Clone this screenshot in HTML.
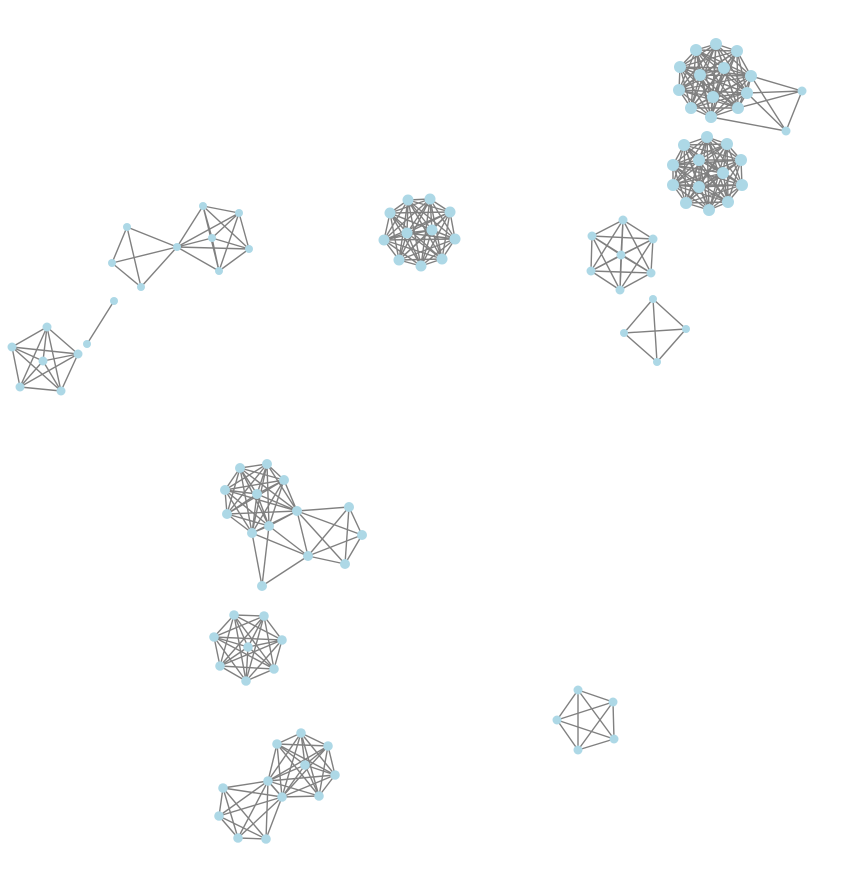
<!DOCTYPE html>
<html><head><meta charset="utf-8"><style>body{margin:0;background:#fff}svg{display:block}</style></head>
<body>
<svg id="g" width="867" height="869"></svg>
<script>
// clusters: node positions, clique groups, extra edges
const clusters = [
 {name:'cluster-top-right-a', r:6, nodes:[[696,50],[716,44],[737,51],[680,67],[724,68],[700,75],[751,76],[679,90],[747,93],[713,97],[691,108],[738,108],[711,117],[802,91],[786,131]],
  cliques:[[0,1,2,3,4,5,6,7,8,9,10,11,12]], extra:[[6,13],[6,14],[8,13],[8,14],[11,13],[12,14],[13,14]], small:[13,14]},
 {name:'cluster-top-right-b', r:6, nodes:[[684,145],[707,137],[727,144],[741,160],[699,160],[723,173],[673,165],[673,185],[699,187],[742,185],[686,203],[709,210],[728,202]],
  cliques:[[0,1,2,3,4,5,6,7,8,9,10,11,12]], extra:[]},
 {name:'cluster-center', r:5.5, nodes:[[408,200],[430,199],[450,212],[390,213],[455,239],[384,240],[407,233],[432,230],[442,259],[399,260],[421,266]],
  cliques:[[0,1,2,3,4,5,6,7,8,9,10]], extra:[]},
 {name:'cluster-hexagon', r:4.5, nodes:[[623,220],[592,236],[653,239],[621,255],[591,271],[651,273],[620,290]],
  cliques:[[0,1,2,3,4,5,6]], extra:[]},
 {name:'cluster-diamond', r:4, nodes:[[653,299],[624,333],[686,329],[657,362]],
  cliques:[[0,1,2,3]], extra:[]},
 {name:'cluster-bowtie', r:4, nodes:[[127,227],[112,263],[141,287],[177,247],[203,206],[239,213],[212,238],[249,249],[219,271],[114,301],[87,344]],
  cliques:[[0,1,2,3],[3,4,5,6,7,8]], extra:[[9,10]]},
 {name:'cluster-pentagon', r:4.5, nodes:[[47,327],[12,347],[78,354],[43,361],[20,387],[61,391]],
  cliques:[[0,1,2,3,4,5]], extra:[]},
 {name:'cluster-middle', r:5, nodes:[[240,468],[267,464],[284,480],[225,490],[257,494],[227,514],[297,511],[269,526],[252,533],[349,507],[362,535],[308,556],[345,564],[262,586]],
  cliques:[[0,1,2,3,4,5,6,7,8],[6,9,10,11,12]], extra:[[8,11],[7,11],[8,13],[7,13],[11,13]]},
 {name:'cluster-lower-octagon', r:4.8, nodes:[[234,615],[264,616],[214,637],[282,640],[248,647],[220,666],[274,669],[246,681]],
  cliques:[[0,1,2,3,4,5,6,7]], extra:[]},
 {name:'cluster-bottom', r:4.8, nodes:[[301,733],[277,744],[328,746],[305,765],[335,775],[268,781],[282,797],[319,796],[223,788],[219,816],[238,838],[266,839]],
  cliques:[[0,1,2,3,4,5,6,7],[5,6,8,9,10,11]], extra:[]},
 {name:'cluster-bottom-right', r:4.5, nodes:[[578,690],[613,702],[557,720],[614,739],[578,750]],
  cliques:[[0,1,2,3,4]], extra:[]}
];
const NS='http://www.w3.org/2000/svg', svg=document.getElementById('g');
const eg=document.createElementNS(NS,'g'), ng=document.createElementNS(NS,'g');




svg.appendChild(eg);svg.appendChild(ng);
clusters.forEach(c=>{
  const pairs=[];
  c.cliques.forEach(q=>{for(let i=0;i<q.length;i++)for(let j=i+1;j<q.length;j++)pairs.push([q[i],q[j]]);});
  c.extra.forEach(p=>pairs.push(p));
  pairs.forEach(p=>{
    const a=c.nodes[p[0]],b=c.nodes[p[1]],l=document.createElementNS(NS,'line');
    l.setAttribute('x1',a[0]);l.setAttribute('y1',a[1]);l.setAttribute('x2',b[0]);l.setAttribute('y2',b[1]);
    l.setAttribute('stroke','#808080');l.setAttribute('stroke-width','1.4');
    
    
    eg.appendChild(l);
  });
  c.nodes.forEach((n,i)=>{
    const e=document.createElementNS(NS,'circle');
    e.setAttribute('cx',n[0]);e.setAttribute('cy',n[1]);
    e.setAttribute('r',(c.small&&c.small.includes(i))?4.5:c.r);
    e.setAttribute('fill','#add8e6');
    
    
    ng.appendChild(e);
  });
});
</script>
</body></html>
